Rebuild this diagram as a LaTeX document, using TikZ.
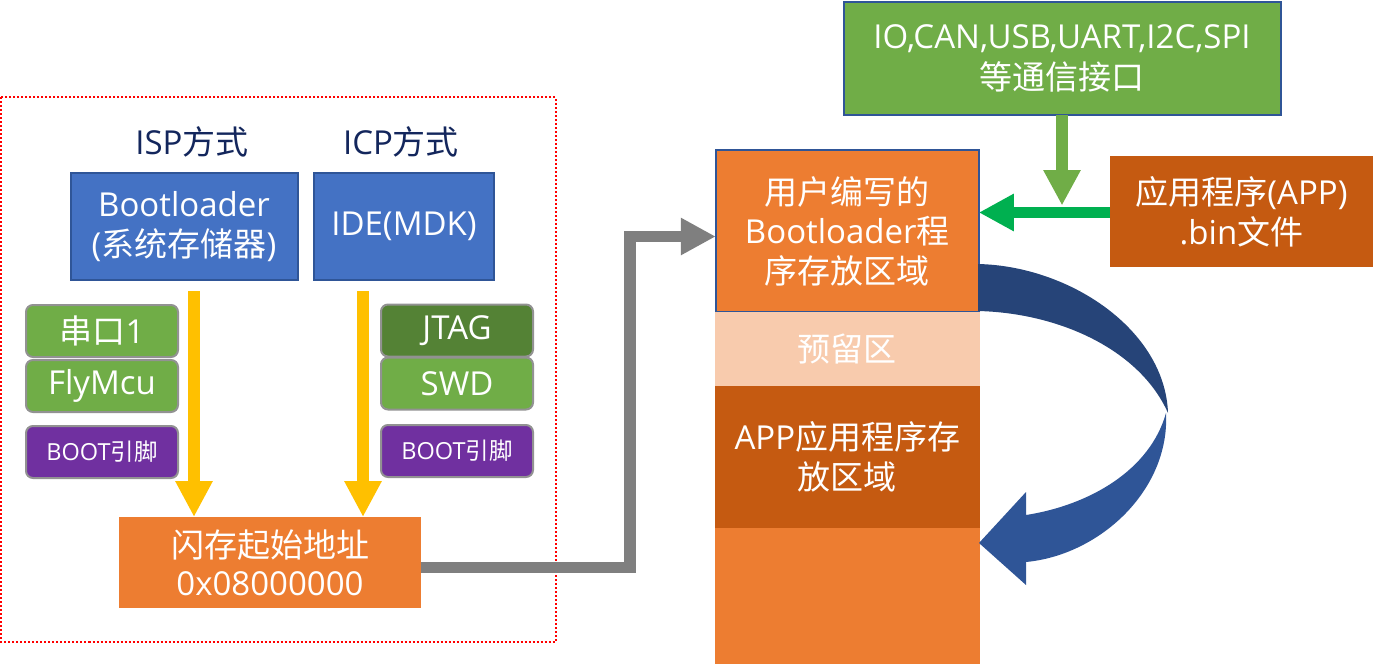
\documentclass[tikz,border=0pt]{standalone}
\usepackage{fontspec}
\setmainfont{Open Sans}
\newfontfamily\cj{Noto Sans CJK SC}
\usetikzlibrary{arrows.meta,calc}
\definecolor{cblue}{HTML}{4472C4}
\definecolor{cblueb}{HTML}{2F5597}
\definecolor{cdark}{HTML}{264478}
\definecolor{cgreen}{HTML}{70AD47}
\definecolor{cdgreen}{HTML}{548235}
\definecolor{cpurple}{HTML}{7030A0}
\definecolor{corange}{HTML}{ED7D31}
\definecolor{cdorange}{HTML}{C55A11}
\definecolor{clorange}{HTML}{F8CBAD}
\definecolor{cyellow}{HTML}{FFC000}
\definecolor{cgray}{HTML}{7F7F7F}
\definecolor{cbright}{HTML}{00B050}
\definecolor{cnavy}{HTML}{13265C}
\definecolor{cred}{HTML}{FF0000}
\begin{document}
\begin{tikzpicture}[x=1pt,y=-1pt,
  every node/.style={inner sep=0pt,outer sep=0pt},
  big/.style={font=\fontsize{33}{40}\selectfont},
  fillbox/.style={rectangle,big,text=white,align=center},
  bluebox/.style={fillbox,fill=cblue,draw=cblueb,line width=2pt},
  pill/.style={fillbox,rounded corners=7pt,draw=cgray!85,line width=2pt,minimum width=152pt,minimum height=52pt},
  title/.style={font=\fontsize{33}{40}\selectfont,text=cnavy},
  small/.style={font=\fontsize{23.5}{28}\selectfont},
  yarrow/.style={draw=cyellow,line width=12pt,-{Triangle[width=35pt,length=36pt]}},
  grarrow/.style={draw=cgray,line width=11.5pt,line join=miter,-{Triangle[width=35pt,length=35pt]}},
  larrow/.style={draw=cgreen,line width=12pt,-{Triangle[width=35pt,length=35.5pt]}},
  barrow/.style={draw=cbright,line width=11.6pt,-{Triangle[width=35pt,length=35pt]}}
]
\useasboundingbox (0,0) rectangle (1373,664);

% left frame
\draw[cred,line width=2pt,dash pattern=on 2pt off 2pt] (1,97) rectangle (555.5,641.5);

\node[title] (isp) at (192,142) {ISP{\cj 方式}};
\node[title] (icp) at (401,142) {ICP{\cj 方式}};
\node[bluebox,minimum width=227pt,minimum height=107pt] (boot) at (184,226.5) {Bootloader\\({\cj 系统存储器})};
\node[bluebox,minimum width=180pt,minimum height=107pt] (ide) at (404,226.5) {IDE(MDK)};

\node[pill,fill=cgreen] (ser) at (102,331) {{\cj 串口}1};
\node[pill,fill=cgreen] (fly) at (102,386) {FlyMcu};
\node[pill,fill=cpurple,small] (bl) at (102,452) {BOOT{\cj 引脚}};
\node[pill,fill=cdgreen] (jtag) at (457,330.5) {JTAG};
\node[pill,fill=cgreen] (swd) at (457,383.5) {SWD};
\node[pill,fill=cpurple,small] (br) at (457,451) {BOOT{\cj 引脚}};

\node[fillbox,fill=corange,minimum width=302pt,minimum height=91pt,font=\fontsize{33}{38}\selectfont] (flash) at (270,562.5) {{\cj 闪存起始地址}\\0x08000000};

\draw[yarrow] ([shift={(10,11)}]boot.south) -- ([shift={(10,0)}]boot.south |- flash.north);
\draw[yarrow] ([shift={(-41,11)}]ide.south) -- ([shift={(-41,0)}]ide.south |- flash.north);

% right column
\node[fillbox,fill=corange,draw=cblueb,line width=2pt,minimum width=263pt,minimum height=162pt,font=\fontsize{33}{39.5}\selectfont] (blr) at (847.3,231) {{\cj 用户编写的}\\Bootloader{\cj 程}\\{\cj 序存放区域}};
\node[fillbox,fill=clorange,minimum width=265pt,minimum height=74pt] (res) at (847.3,349) {{\cj 预留区}};
\node[fillbox,fill=cdorange,minimum width=265pt,minimum height=142pt,font=\fontsize{33}{39.5}\selectfont] (appr) at (847.3,457) {APP{\cj 应用程序存}\\{\cj 放区域}};
\node[fillbox,fill=corange,minimum width=265pt,minimum height=136pt] (bot) at (847.3,596) {};

\node[fillbox,fill=cgreen,draw=cblueb,line width=2pt,minimum width=437pt,minimum height=113pt,font=\fontsize{33}{41}\selectfont] (io) at (1062,58) {IO,CAN,USB,UART,I2C,SPI\\{\cj 等通信接口}};
\node[fillbox,fill=cdorange,minimum width=263pt,minimum height=111pt] (app) at (1241.5,211.5) {{\cj 应用程序}(APP)\\.bin{\cj 文件}};

% connectors
\draw[grarrow] ([shift={(0,5)}]flash.east) -- ++(209,0) |- ([shift={(0,5.5)}]blr.west);
\draw[larrow] (io.south) -- ++(0,91);
\draw[barrow] ([shift={(0,1)}]app.west) -- ([shift={(0,1)}]app.west -| blr.east);

% curved arrow
\fill[cdark] (978,264) .. controls (1070,266) and (1165,330) .. (1168,413)
  .. controls (1140,350) and (1060,313) .. (978,311) -- cycle;
\fill[cblueb] (1166,413) .. controls (1170,490) and (1100,555) .. (1026,562)
  -- (1026,585) -- (979,543) -- (1026,492) -- (1026,515)
  .. controls (1090,505) and (1150,470) .. (1166,413) -- cycle;
\end{tikzpicture}
\end{document}
